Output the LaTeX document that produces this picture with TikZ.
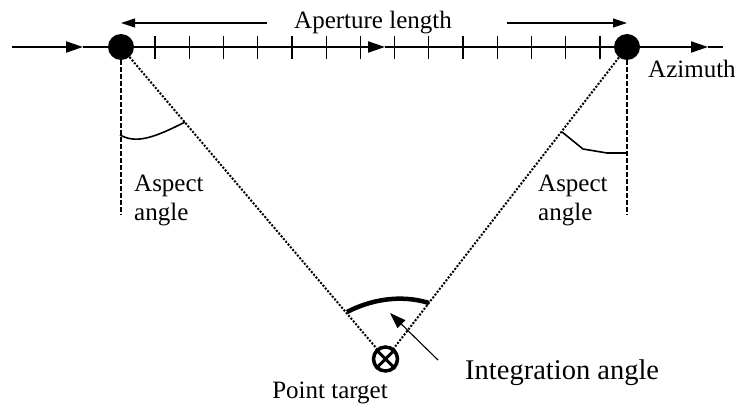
\documentclass[tikz,border=0pt]{standalone}
\usepackage{fontspec}
\setmainfont{Liberation Serif}
\usetikzlibrary{arrows.meta}
\begin{document}
\begin{tikzpicture}[x=1pt,y=-1pt,
  axis/.style={line width=2pt},
  tick/.style={line width=1.3pt},
  tri/.style={-{Triangle[length=17pt,width=11pt]}},
  apert/.style={line width=1.1pt,-{Triangle[length=14pt,width=9pt]}},
  dotline/.style={line width=2pt,dash pattern=on 2pt off 1.6pt},
  dashline/.style={line width=2pt,dash pattern=on 4.5pt off 2.5pt},
  dot/.style={circle,fill=black,minimum size=26pt,inner sep=0pt},
  lbl/.style={inner sep=0pt,font=\fontsize{25}{29}\selectfont},
  biglbl/.style={inner sep=0pt,font=\fontsize{28.5}{34}\selectfont},
  wig/.style={line width=1.6pt}
]
\useasboundingbox (0,0) rectangle (735,409);
% main axis
\coordinate (a0) at (12,47);
\coordinate (a1) at (83,47);
\coordinate (a2) at (385,47);
\coordinate (a3) at (708,47);
\coordinate (a4) at (723,47);
\node[dot] (L) at (121,47) {};
\node[dot] (R) at (627,47) {};
\draw[axis,tri] (a0) -- (a1);
\draw[axis] (a1) -- (L);
\draw[axis,tri] (L) -- (a2);
\draw[axis] (a2) -- (R);
\draw[axis,tri] (R) -- (a3);
\draw[axis] (a3) -- (a4);
\foreach \i in {0,...,13}{
  \draw[tick] ({155+\i*34.23},36) -- ({155+\i*34.23},59);
}
% aperture length
\node[lbl,anchor=base] (ap) at (373,29) {Aperture length};
\coordinate (apl) at (267,23);
\coordinate (apr) at (507,23);
\coordinate (aptl) at (121,23);
\coordinate (aptr) at (627,23);
\draw[apert] (apl) -- (aptl);
\draw[apert] (apr) -- (aptr);
\node[lbl,anchor=base west] (az) at (648,78) {Azimuth};
% target
\node[circle,draw,line width=3.5pt,minimum size=24pt,inner sep=0pt] (T) at (385.5,359) {};
\draw[line width=3pt] (T.north west) -- (T.south east) (T.north east) -- (T.south west);
\node[lbl,anchor=base] (pt) at (330,398) {Point target};
% dotted lines
\draw[dotline] (L) -- (T);
\draw[dotline] (R) -- (T);
% dashed verticals
\coordinate (Ld) at (121,215);
\coordinate (Rd) at (627,215);
\draw[dashline] (L.south) -- (Ld);
\draw[dashline] (R.south) -- (Rd);
% aspect angle marks
\draw[wig] (120,135) .. controls (135,143) and (150,140) .. (185,122);
\draw[wig] (562,132) -- (583,149) -- (607,153) -- (626,153);
\node[lbl,anchor=north west,align=left] (asl) at (134,175) {Aspect\\angle};
\node[lbl,anchor=north west,align=left] (asr) at (538,175) {Aspect\\angle};
% integration angle
\draw[line width=4.5pt] (347,312) .. controls (370,300) and (400,294) .. (429,303);
\coordinate (ia) at (438,360);
\coordinate (ib) at (390,313);
\draw[line width=1.1pt,-{Triangle[length=16pt,width=11pt]}] (ia) -- (ib);
\node[biglbl,anchor=base west] (int) at (465,379) {Integration angle};
\end{tikzpicture}
\end{document}
